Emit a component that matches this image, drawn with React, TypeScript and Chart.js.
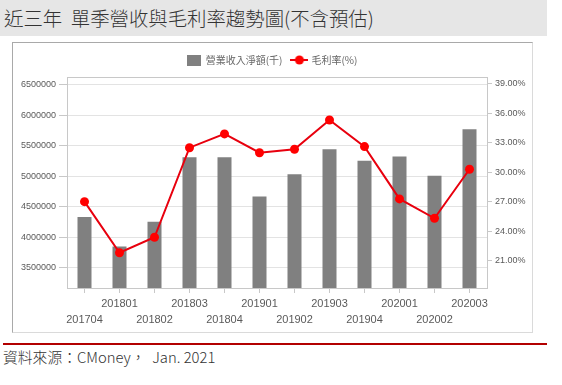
import React, { useEffect, useRef } from 'react';
import { Chart, registerables } from 'chart.js';

Chart.register(...registerables);

const categories = ['201704', '201801', '201802', '201803', '201804', '201901', '201902', '201903', '201904', '202001', '202002', '202003'];
const revenue = [4335000, 3850000, 4255000, 5315000, 5315000, 4670000, 5035000, 5445000, 5255000, 5325000, 5010000, 5775000];
const grossMargin = [27.03, 21.84, 23.41, 32.52, 33.92, 32.01, 32.36, 35.34, 32.63, 27.31, 25.34, 30.33];
const revenueTicks = [3500000, 4000000, 4500000, 5000000, 5500000, 6000000, 6500000];
const marginTicks = [21, 24, 27, 30, 33, 36, 39];
const revenueLabel = '營業收入淨額(千)';
const marginLabel = '毛利率(%)';
const titleText = '近三年  單季營收與毛利率趨勢圖(不含預估)';
const sourceText = '資料來源：CMoney，  Jan. 2021';

const BAR_COLOR = '#808080';
const LINE_COLOR = '#e8000e';
const POINT_COLOR = '#ff0000';
const AXIS_COLOR = '#c8c8c8';
const GRID_COLOR = '#e3e3e3';
const TICK_TEXT = '#5a5a5a';
const FONT = '"Liberation Sans", "Noto Sans CJK TC", sans-serif';
const CJK_FONT = '"Noto Sans CJK TC", "Liberation Sans", sans-serif';

function makeBoxIcon(): HTMLCanvasElement {
  const c = document.createElement('canvas');
  c.width = 14;
  c.height = 11;
  const ctx = c.getContext('2d')!;
  ctx.fillStyle = BAR_COLOR;
  ctx.fillRect(0, 0, 14, 11);
  return c;
}

function makeLineIcon(): HTMLCanvasElement {
  const c = document.createElement('canvas');
  c.width = 18;
  c.height = 10;
  const ctx = c.getContext('2d')!;
  ctx.strokeStyle = LINE_COLOR;
  ctx.lineWidth = 2;
  ctx.beginPath();
  ctx.moveTo(0, 5);
  ctx.lineTo(18, 5);
  ctx.stroke();
  ctx.fillStyle = POINT_COLOR;
  ctx.beginPath();
  ctx.arc(9, 5, 4.5, 0, Math.PI * 2);
  ctx.fill();
  return c;
}

const framePlugin = {
  id: 'frameTop',
  beforeDatasetsDraw(chart: any) {
    const { ctx, chartArea: a } = chart;
    ctx.save();
    ctx.strokeStyle = AXIS_COLOR;
    ctx.lineWidth = 1;
    ctx.beginPath();
    ctx.moveTo(a.left, Math.round(a.top) + 0.5);
    ctx.lineTo(a.right, Math.round(a.top) + 0.5);
    ctx.stroke();
    ctx.restore();
  },
};

const legendShift = {
  id: 'legendShift',
  afterLayout(chart: any) {
    if (chart.legend) {
      chart.legend.top -= 2;
      chart.legend.bottom -= 2;
    }
  },
};

export default function App() {
  const canvasRef = useRef<HTMLCanvasElement | null>(null);

  useEffect(() => {
    const canvas = canvasRef.current;
    if (!canvas) return;
    const boxIcon = makeBoxIcon();
    const lineIcon = makeLineIcon();

    const chart = new Chart(canvas, {
      data: {
        labels: categories,
        datasets: [
          {
            type: 'bar',
            label: revenueLabel,
            data: revenue,
            yAxisID: 'y',
            backgroundColor: BAR_COLOR,
            barPercentage: 0.4,
            categoryPercentage: 1,
            order: 1,
          } as any,
          {
            type: 'line',
            label: marginLabel,
            data: grossMargin,
            yAxisID: 'y1',
            borderColor: LINE_COLOR,
            backgroundColor: POINT_COLOR,
            borderWidth: 2,
            pointRadius: 4.5,
            pointBackgroundColor: POINT_COLOR,
            pointBorderColor: POINT_COLOR,
            pointBorderWidth: 0,
            tension: 0,
            order: 0,
          } as any,
        ],
      },
      options: {
        responsive: false,
        animation: false,
        layout: { padding: { top: 4, left: 0, right: 0, bottom: 0 } },
        plugins: {
          tooltip: { enabled: false },
          legend: {
            position: 'top',
            align: 'center',
            labels: {
              usePointStyle: true,
              pointStyleWidth: 14,
              padding: 10,
              color: '#666666',
              font: { family: CJK_FONT, size: 10 },
              generateLabels: (ch: any) => {
                const items = Chart.defaults.plugins.legend.labels.generateLabels(ch);
                items.sort((p: any, q: any) => p.datasetIndex - q.datasetIndex);
                return items.map((it: any) => ({
                  ...it,
                  pointStyle: it.datasetIndex === 0 ? boxIcon : lineIcon,
                  fontColor: '#666666',
                }));
              },
            },
          },
        },
        scales: {
          x: {
            offset: true,
            grid: {
              display: true,
              drawOnChartArea: false,
              drawTicks: true,
              tickLength: 5,
              offset: false,
              color: AXIS_COLOR,
            },
            border: { color: AXIS_COLOR },
            ticks: {
              autoSkip: false,
              maxRotation: 0,
              minRotation: 0,
              padding: 3,
              color: TICK_TEXT,
              font: { family: FONT, size: 11, lineHeight: 1.45 },
              callback: (_v: any, i: number) => (i % 2 === 0 ? ['', categories[i]] : [categories[i], '']),
            },
            afterFit: (s: any) => {
              s.height = 43;
            },
          },
          y: {
            position: 'left',
            min: 3170000,
            max: 6630000,
            afterBuildTicks: (s: any) => {
              s.ticks = revenueTicks.map((v) => ({ value: v }));
            },
            grid: { color: GRID_COLOR, tickColor: AXIS_COLOR, tickLength: 8 },
            border: { color: AXIS_COLOR },
            ticks: {
              padding: 3,
              color: TICK_TEXT,
              font: { family: FONT, size: 9 },
              callback: (v: any) => String(v),
            },
            afterFit: (s: any) => {
              s.width = 54;
            },
          },
          y1: {
            position: 'right',
            min: 18.25,
            max: 39.71,
            afterBuildTicks: (s: any) => {
              s.ticks = marginTicks.map((v) => ({ value: v }));
            },
            grid: { drawOnChartArea: false, color: AXIS_COLOR, tickLength: 5 },
            border: { color: AXIS_COLOR },
            ticks: {
              padding: 3,
              color: TICK_TEXT,
              font: { family: FONT, size: 9 },
              callback: (v: any) => Number(v).toFixed(2) + '%',
            },
            afterFit: (s: any) => {
              s.width = 44;
            },
          },
        },
      } as any,
      plugins: [framePlugin, legendShift],
    });

    return () => {
      chart.destroy();
    };
  }, []);

  return (
    <div style={{ position: 'absolute', left: 0, top: 0, width: 562, height: 385, background: '#ffffff', overflow: 'hidden' }}>
      <div style={{ position: 'absolute', left: 0, top: 0, width: 547, height: 36, background: '#e6e6e6' }}>
        <span
          style={{
            position: 'absolute',
            left: 4,
            top: 0,
            lineHeight: '36px',
            fontSize: 19.4,
            fontWeight: 300,
            fontFamily: CJK_FONT,
            color: '#333333',
            whiteSpace: 'pre',
          }}
        >
          {titleText}
        </span>
      </div>
      <div
        style={{
          position: 'absolute',
          left: 12,
          top: 42,
          width: 521,
          height: 291,
          boxSizing: 'border-box',
          borderTop: '1px solid #a9a9a9',
          borderLeft: '1px solid #a9a9a9',
          borderRight: '1px solid #dadada',
          borderBottom: '1px solid #dadada',
        }}
      />
      <canvas
        ref={canvasRef}
        width={518}
        height={288}
        style={{ position: 'absolute', left: 13, top: 43, width: 518, height: 288 }}
      />
      <div style={{ position: 'absolute', left: 3, top: 343, width: 544, height: 2, background: '#b20000' }} />
      <div
        style={{
          position: 'absolute',
          left: 3,
          top: 347,
          lineHeight: '20px',
          fontSize: 14.8,
          fontWeight: 300,
          fontFamily: CJK_FONT,
          color: '#333333',
          whiteSpace: 'pre',
        }}
      >
        {sourceText}
      </div>
    </div>
  );
}
